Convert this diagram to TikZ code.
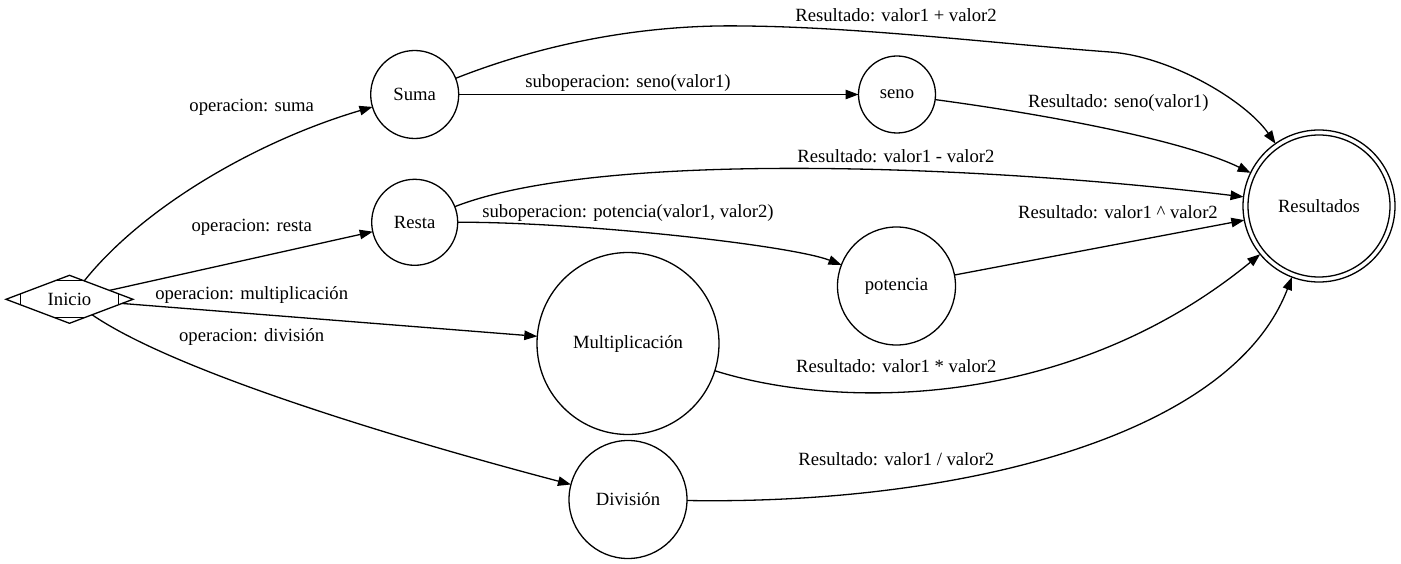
\documentclass[tikz,border=0pt]{standalone}
\usepackage{fontspec}
\setmainfont{Liberation Serif}
\usetikzlibrary{arrows.meta,shapes.geometric,calc}
\begin{document}
\begin{tikzpicture}[x=1pt,y=-1pt,
  every node/.style={font=\fontsize{18.67}{22}\selectfont, inner sep=0pt, outer sep=0pt},
  state/.style={circle, draw, line width=1.3pt, minimum size=#1},
  startnode/.style={diamond, draw, line width=1.3pt, aspect=2.65, minimum width=127pt, minimum height=48pt},
  lbl/.style={text height=13pt, text depth=4pt},
  conn/.style={line width=1.3pt, -{Triangle[length=13pt,width=9.5pt]}},
  cornerline/.style={line width=1.3pt}
]
\useasboundingbox (0,0) rectangle (1401,564);

% nodes
\node[startnode] (ini) at (69.5,299.3) {Inicio};
\draw[cornerline] ($(ini.north)+(-14.5,5.5)$) -- ($(ini.north)+(14.5,5.5)$);
\draw[cornerline] ($(ini.south)+(-14.5,-5.5)$) -- ($(ini.south)+(14.5,-5.5)$);
\draw[cornerline] ($(ini.west)+(14.5,-5.5)$) -- ($(ini.west)+(14.5,5.5)$);
\draw[cornerline] ($(ini.east)+(-14.5,-5.5)$) -- ($(ini.east)+(-14.5,5.5)$);

\node[state=88pt] (suma) at (414.7,94.5) {Suma};
\node[state=77pt] (seno) at (897,94.5) {seno};
\node[state=86pt] (resta) at (414.7,222.3) {Resta};
\node[state=118pt] (pot) at (896.5,286) {potencia};
\node[state=182pt] (mult) at (628,343.5) {Multiplicación};
\node[state=118pt] (div) at (628,499.5) {División};
\node[state=152pt] (res) at (1319,206) {Resultados};
\draw[line width=1.3pt] (res.center) circle[radius=71pt];

% connectors
\draw[conn] (ini) .. controls (145,205) and (260,140) .. (suma);
\draw[conn] (ini) -- (resta);
\draw[conn] (ini) -- (mult);
\draw[conn] (ini) .. controls (180,375) and (421,445) .. (div);
\draw[conn] (suma) -- (seno);
\draw[conn] (suma) .. controls (540,45) and (640,24) .. (744,26)
  .. controls (860,27) and (1000,44) .. (1110,52)
  .. controls (1170,56.3) and (1245,100) .. (res);
\draw[conn] (seno) .. controls (1050,115) and (1184,140.5) .. (res);
\draw[conn] (resta) .. controls (600,150) and (980,165) .. (res);
\draw[conn] (resta) .. controls (580,222) and (790,245) .. (pot);
\draw[conn] (pot) -- (res);
\draw[conn] (mult) .. controls (840,410) and (1070,410) .. (res);
\draw[conn] (div) .. controls (950,505) and (1230,440) .. (res);

% labels
\node[lbl] (l1) at (251.7,106.7) {operacion: suma};
\node[lbl] (l2) at (251.7,226.7) {operacion: resta};
\node[lbl] (l3) at (251.7,295) {operacion: multiplicación};
\node[lbl] (l4) at (251.7,336.7) {operacion: división};
\node[lbl] (l5) at (628,83.3) {suboperacion: seno(valor1)};
\node[lbl] (l6) at (628,213) {suboperacion: potencia(valor1, valor2)};
\node[lbl] (l7) at (896,16.7) {Resultado: valor1 + valor2};
\node[lbl] (l8) at (1118.3,103.3) {Resultado: seno(valor1)};
\node[lbl] (l9) at (896,158) {Resultado: valor1 - valor2};
\node[lbl] (l10) at (1118,214) {Resultado: valor1 \^{} valor2};
\node[lbl] (l11) at (896.3,368.3) {Resultado: valor1 * valor2};
\node[lbl] (l12) at (896.3,460.7) {Resultado: valor1 / valor2};
\end{tikzpicture}
\end{document}
